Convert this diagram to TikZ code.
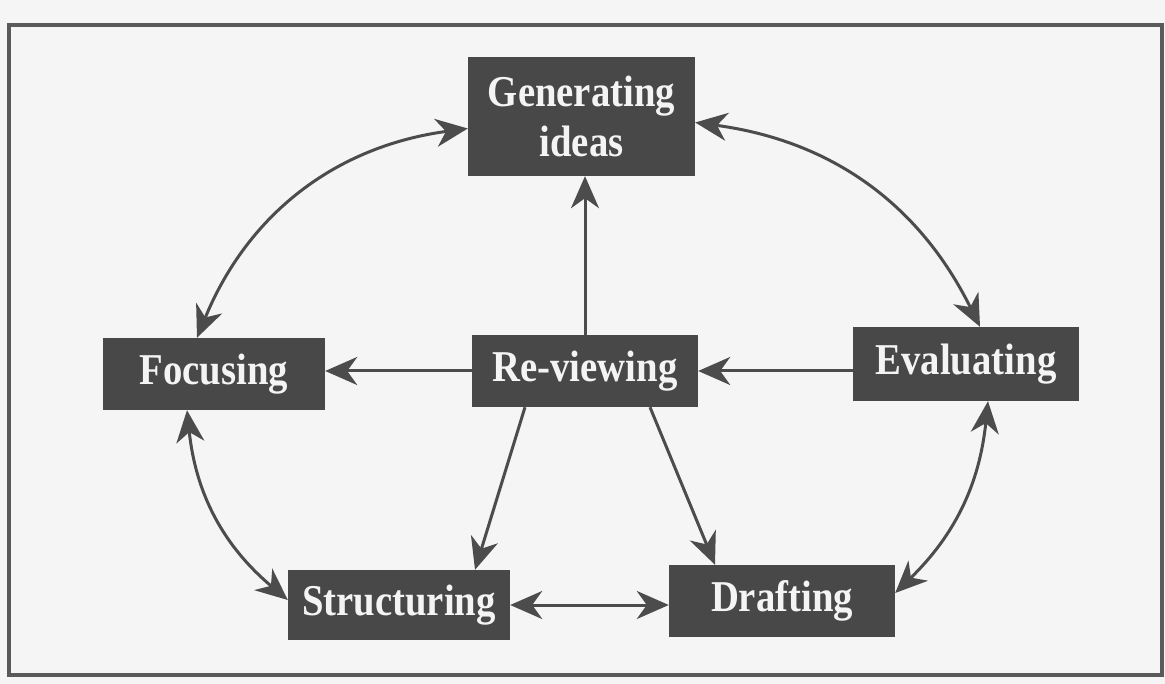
\documentclass[tikz,border=0pt]{standalone}
\usepackage{fontspec}
\setmainfont{Liberation Serif}
\newfontfamily\boxfont[FakeStretch=0.88]{Liberation Serif}
\usetikzlibrary{arrows.meta}
\definecolor{boxgray}{HTML}{484848}
\definecolor{linegray}{HTML}{4C4C4C}
\definecolor{framegray}{HTML}{5A5A5A}
\definecolor{paper}{HTML}{F5F5F5}
\definecolor{inkwhite}{HTML}{F4F4F4}
\begin{document}
\begin{tikzpicture}[x=1pt,y=-1pt,
  stage/.style={fill=boxgray, text=inkwhite, font=\boxfont\bfseries\fontsize{44}{50}\selectfont, align=center, inner sep=0pt},
  tipa/.tip={Stealth[length=32pt,width=28pt,inset=10pt]},
  link/.style={draw=linegray, line width=3pt, -tipa},
  both/.style={draw=linegray, line width=3pt, tipa-tipa}
]
\fill[paper] (0,0) rectangle (1165,684);
\useasboundingbox (0,0) rectangle (1165,684);
\draw[framegray, line width=3.5pt] (9,25) rectangle (1162,675);

\node[stage, minimum width=227pt, minimum height=119pt] (gen) at (581.5,116.5) {Generating\\ideas};
\node[stage, minimum width=222pt, minimum height=72pt] (foc) at (214,374) {Focusing};
\node[stage, minimum width=226pt, minimum height=72pt] (rev) at (585,371) {Re-viewing};
\node[stage, minimum width=226pt, minimum height=74pt] (eva) at (966,364) {Evaluating};
\node[stage, minimum width=222pt, minimum height=70pt] (str) at (399,605) {Structuring};
\node[stage, minimum width=226pt, minimum height=72pt] (dra) at (782,601) {Drafting};

\draw[link] (rev.north) -- (rev.north |- gen.south);
\draw[link] (eva.west |- rev) -- (rev.east);
\draw[link] (rev.west) -- (foc.east |- rev.west);
\draw[link] ([xshift=-60pt]rev.south) -- ([xshift=76pt]str.north);
\draw[link] ([xshift=65pt]rev.south) -- ([xshift=-67pt]dra.north);
\draw[both] (str.east) -- (str.east -| dra.west);

\draw[both] ([xshift=-17pt]foc.north) to[bend left=30] ([yshift=-12pt]gen.west);
\draw[both] ([yshift=-6pt]gen.east) to[bend left=28] ([xshift=14pt]eva.north);
\draw[both] ([xshift=22pt]eva.south) to[bend left=20] ([yshift=8pt]dra.east);
\draw[both] ([yshift=5pt]str.west) to[bend left=22] ([xshift=-27pt]foc.south);
\end{tikzpicture}
\end{document}
